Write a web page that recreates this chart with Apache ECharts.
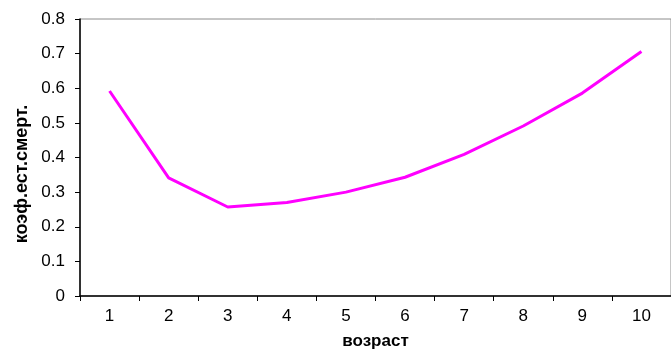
<!DOCTYPE html>
<html>
<head>
<meta charset="utf-8">
<script src="https://cdn.jsdelivr.net/npm/echarts@6/dist/echarts.min.js"></script>
<style>
  html, body { margin: 0; padding: 0; background: #ffffff; }
  #chart { width: 671px; height: 355px; }
</style>
</head>
<body>
<div id="chart"></div>
<script>
// Age groups and the natural mortality coefficient for each
var ages = ['1', '2', '3', '4', '5', '6', '7', '8', '9', '10'];
var mortality = [0.592, 0.341, 0.257, 0.270, 0.300, 0.343, 0.409, 0.491, 0.586, 0.706];

var xAxisName = 'возраст';
var yAxisName = 'коэф.ест.смерт.';

var FONT = 'Liberation Sans, Arial, sans-serif';

var chart = echarts.init(document.getElementById('chart'), null, { renderer: 'canvas' });

chart.setOption({
  animation: false,
  backgroundColor: '#ffffff',
  grid: {
    left: 80,
    top: 19,
    width: 600,
    height: 282,
    show: true,
    borderColor: '#8c8c8c',
    borderWidth: 1,
    backgroundColor: 'transparent'
  },
  xAxis: {
    type: 'category',
    data: ages,
    boundaryGap: true,
    name: xAxisName,
    nameLocation: 'middle',
    nameGap: 37,
    nameTextStyle: { fontFamily: FONT, fontSize: 17, fontWeight: 'bold', color: '#000' },
    axisLine: { show: true, lineStyle: { color: '#000', width: 1.5 } },
    axisTick: { show: true, length: 5, lineStyle: { color: '#000', width: 1 } },
    axisLabel: { fontFamily: FONT, fontSize: 17, color: '#000', margin: 12 },
    splitLine: { show: false }
  },
  yAxis: {
    type: 'value',
    min: 0,
    max: 0.8,
    interval: 0.1,
    axisLine: { show: true, lineStyle: { color: '#000', width: 1.5 } },
    axisTick: { show: true, length: 5, lineStyle: { color: '#000', width: 1 } },
    axisLabel: {
      fontFamily: FONT, fontSize: 17, color: '#000', margin: 15,
      formatter: function (v) { return v === 0 ? '0' : v.toFixed(1); }
    },
    splitLine: { show: false }
  },
  graphic: [{
    type: 'text',
    x: 22,
    y: 174,
    rotation: Math.PI / 2,
    style: {
      text: yAxisName,
      fontFamily: FONT,
      fontSize: 18,
      fontWeight: 'bold',
      fill: '#000',
      align: 'center',
      verticalAlign: 'middle'
    }
  }],
  series: [{
    type: 'line',
    data: mortality,
    showSymbol: false,
    symbol: 'none',
    lineStyle: { color: '#ff00ff', width: 3 },
    itemStyle: { color: '#ff00ff' }
  }]
});
</script>
</body>
</html>
